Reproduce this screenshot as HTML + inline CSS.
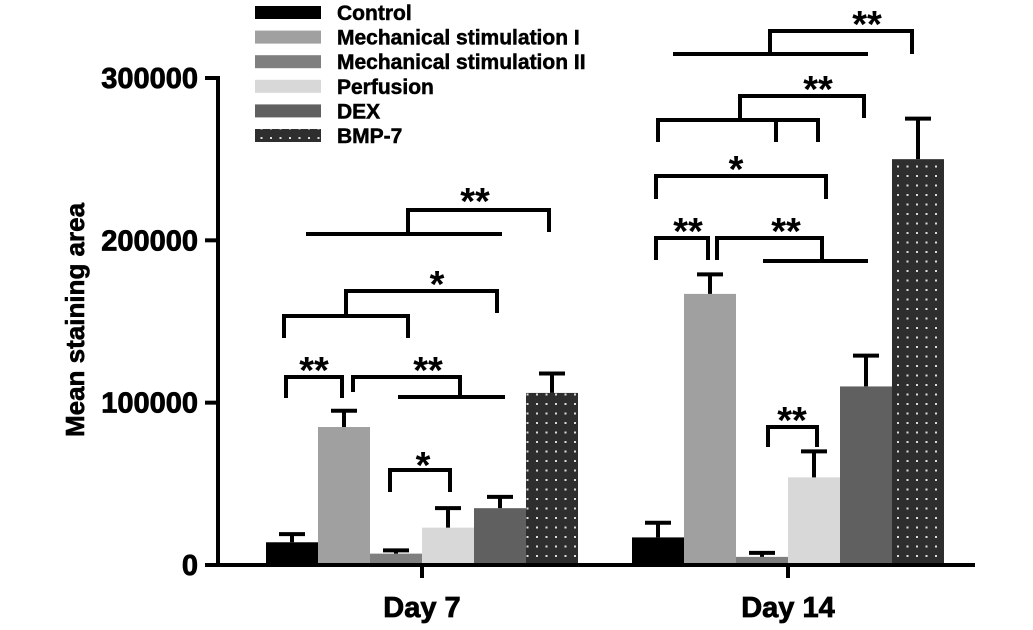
<!DOCTYPE html>
<html><head><meta charset="utf-8"><style>
html,body{margin:0;padding:0;background:#fff;}
svg{display:block;font-family:"Liberation Sans",Arial,sans-serif;font-weight:bold;}
</style></head><body>
<svg id="chart" width="1033" height="630" viewBox="0 0 1033 630">
<defs>
<pattern id="dots" width="9.5" height="9.5" patternUnits="userSpaceOnUse">
<rect width="9.5" height="9.5" fill="#2e2e2e"/><rect x="4" y="4" width="2" height="2" fill="#ddd"/>
</pattern>
</defs>
<g id="plot"></g>
</svg>
<script>
const groups=["Day 7","Day 14"];
const seriesNames=["Control","Mechanical stimulation I","Mechanical stimulation II","Perfusion","DEX","BMP-7"];
const day7Values=[14000,85000,7000,23000,35000,106000];
const day7Errors=[5000,10000,2000,12000,7000,12000];
const day14Values=[17000,167000,5000,54000,110000,250000];
const day14Errors=[9000,12000,2500,16000,19000,25000];
const yTicks=[0,100000,200000,300000];
const tickLabels=["0","100000","200000","300000"];
const fills=["#000","#a0a0a0","#7f7f7f","#d8d8d8","#606060","url(#dots)"];
const NS="http://www.w3.org/2000/svg";
const g=document.getElementById('plot');
const y0=565,yTop=78,yMax=300000;
const y=v=>y0-(v/yMax)*(y0-yTop);
const groupStart=[266,632],bw=52;
function el(t,a,p){const e=document.createElementNS(NS,t);for(const k in a)e.setAttribute(k,a[k]);(p||g).appendChild(e);return e;}
[day7Values,day14Values].forEach((vals,gi)=>{
 const errs=gi?day14Errors:day7Errors;
 vals.forEach((v,i)=>{
  const x=groupStart[gi]+i*bw;
  const r=el('rect',{x:x,y:y(v),width:bw,height:y0-y(v),fill:fills[i]});
  
  
  const cx=x+bw/2,top=y(v+errs[i]);
  const e=el('path',{d:`M${cx} ${y(v)}V${top}M${cx-13} ${top}H${cx+13}`,stroke:'#000','stroke-width':4,fill:'none'});
  
  
 });
});
const ax=el('path',{d:`M218 ${yTop-2}V${y0}H975M422 ${y0}V578M788 ${y0}V578`,stroke:'#000','stroke-width':4,fill:'none'});


yTicks.forEach((t,i)=>{
 el('path',{d:`M205 ${y(t)}H218`,stroke:'#000','stroke-width':4});
 const tx=el('text',{x:198,y:y(t)+10,'text-anchor':'end','font-size':29,stroke:'#000','stroke-width':0.8});
 tx.textContent=tickLabels[i];
 
 
});
groups.forEach((gn,gi)=>{
 const tx=el('text',{x:groupStart[gi]+3*bw,y:617,'text-anchor':'middle','font-size':29,stroke:'#000','stroke-width':0.8});
 tx.textContent=gn;
 
 
});
const yt=el('text',{x:0,y:0,'text-anchor':'middle','font-size':26,stroke:'#000','stroke-width':0.6,transform:'translate(84,320) rotate(-90)'});
yt.textContent='Mean staining area';


seriesNames.forEach((n,i)=>{
 const yy=12+i*24.6;
 el('rect',{x:255,y:yy-6,width:66,height:13,fill:fills[i]});
 const tx=el('text',{x:337,y:yy+8,'font-size':21,stroke:'#000','stroke-width':0.5});
 tx.textContent=n;
 
 
});
const br=[
 "M286 398V377H342V398","M353 392V377H460V397M398 397H505","M390 492V470H450V492",
 "M284 338V316H408V338M346 316V291H497V313","M306 234H502M408 234V210H549V232",
 "M656 260V238H708V260","M717 260V238H822V260M763 261H868","M656 199V176H826V199",
 "M658 142V120H818V142M776 120V142M740 120V96H864V118","M673 54H868M770 54V31H912V54",
 "M768 447V427H817V447"];
br.forEach(d=>{const p=el('path',{d:d,stroke:'#000','stroke-width':4,fill:'none'});
 
 });
const stars=[[314,377,"**"],[428,377,"**"],[423,472,"*"],[437,291,"*"],[475,208,"**"],
 [688,238,"**"],[786,238,"**"],[736,176,"*"],[818,96,"**"],[867,31,"**"],[792,427,"**"]];
stars.forEach(s=>{const t=el('text',{x:s[0],y:s[1]+6,'text-anchor':'middle','font-size':38});
 t.textContent=s[2];
 
 });
</script>
</body></html>
